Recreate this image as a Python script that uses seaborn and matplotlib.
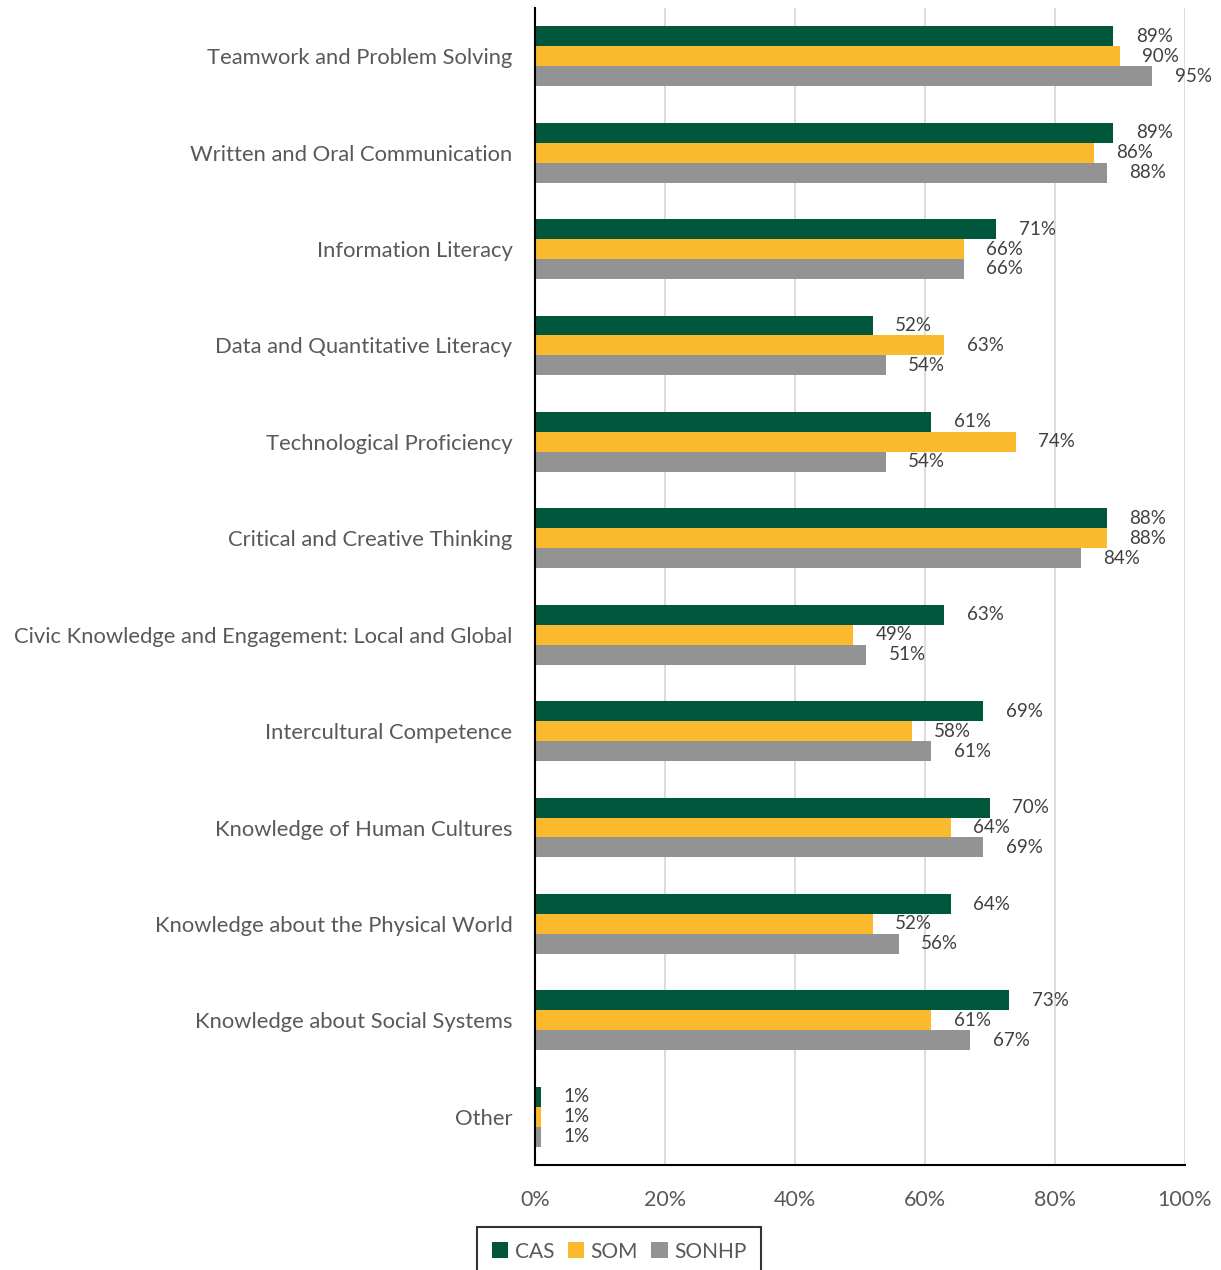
import matplotlib
matplotlib.use("Agg")
import matplotlib.pyplot as plt
import seaborn as sns
import pandas as pd

categories = [
    "Teamwork and Problem Solving",
    "Written and Oral Communication",
    "Information Literacy",
    "Data and Quantitative Literacy",
    "Technological Proficiency",
    "Critical and Creative Thinking",
    "Civic Knowledge and Engagement: Local and Global",
    "Intercultural Competence",
    "Knowledge of Human Cultures",
    "Knowledge about the Physical World",
    "Knowledge about Social Systems",
    "Other",
]
cas = [89, 89, 71, 52, 61, 88, 63, 69, 70, 64, 73, 1]
som = [90, 86, 66, 63, 74, 88, 49, 58, 64, 52, 61, 1]
sonhp = [95, 88, 66, 54, 54, 84, 51, 61, 69, 56, 67, 1]
schools = ["CAS", "SOM", "SONHP"]
palette = {"CAS": "#00573C", "SOM": "#FBBA2D", "SONHP": "#939393"}

df = pd.DataFrame({
    "Outcome": categories * 3,
    "School": ["CAS"] * 12 + ["SOM"] * 12 + ["SONHP"] * 12,
    "Pct": cas + som + sonhp,
})

sns.set_style("white")
plt.rcParams["font.family"] = ["Lato", "DejaVu Sans"]

fig = plt.figure(figsize=(12.21, 12.70), dpi=100)
ax = fig.add_axes([0.438, 0.0827, 0.5325, 0.911])

sns.barplot(data=df, y="Outcome", x="Pct", hue="School", order=categories,
            hue_order=schools, palette=palette, orient="h", width=0.62,
            gap=0, saturation=1, linewidth=0, ax=ax, legend=True)

ax.set_xlim(0, 100)
ax.set_ylim(11.5, -0.5)
ax.set_xticks(range(0, 101, 20))
ax.set_xticklabels([f"{t}%" for t in range(0, 101, 20)])
ax.tick_params(axis="x", length=0, pad=18, labelsize=15.5, labelcolor="#595959")
ax.tick_params(axis="y", length=0, pad=16, labelsize=15.8, labelcolor="#595959")
for lbl in ax.get_yticklabels():
    lbl.set_va("center_baseline")
ax.set_xlabel("")
ax.set_ylabel("")
ax.grid(axis="x", color="#D9D9D9", linewidth=1.3)
ax.set_axisbelow(True)
for s in ["top", "right"]:
    ax.spines[s].set_visible(False)
for s in ["left", "bottom"]:
    ax.spines[s].set_color("black")
    ax.spines[s].set_linewidth(1.5)

for cont in ax.containers:
    ax.bar_label(cont, labels=[f"{v:.0f}%" for v in cont.datavalues],
                 padding=16, fontsize=13.5, color="#404040")

ax.legend(loc="upper left", bbox_to_anchor=(477 / 1221, 1 - 1227 / 1270),
          bbox_transform=fig.transFigure, ncol=3,
          frameon=True, fancybox=False, edgecolor="black", fontsize=15,
          handlelength=0.8, handleheight=0.8, handletextpad=0.3,
          columnspacing=0.65, borderpad=0.7, borderaxespad=0,
          labelcolor="#595959")
ax.get_legend().get_frame().set_linewidth(1.5)

fig.savefig("out.png", dpi=100)
